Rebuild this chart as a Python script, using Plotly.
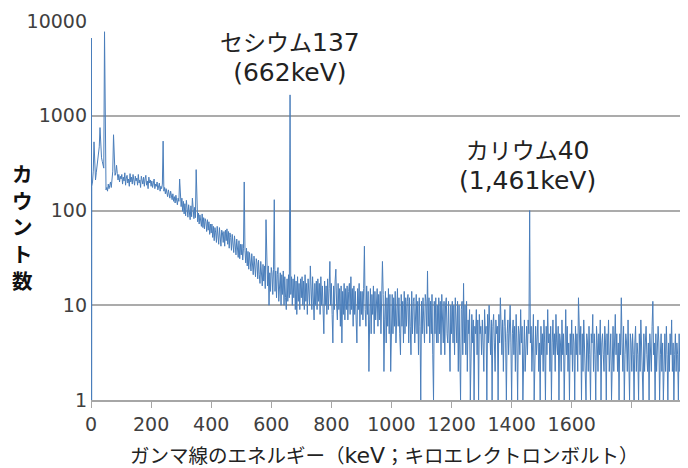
import plotly.graph_objects as go

# --- data (counts) ---
# a few points at the very start of the spectrum (keV, counts)
low_energy = [0, 0.5, 1.5, 2]
low_counts = [3, 1, 6600, 1]

# counts every 2.5 keV, starting at 2.5 keV; one row = 50 keV
counts_0_500 = [
    180, 200, 260, 530, 240, 210, 250, 300, 380, 420, 470, 750, 420, 360, 330, 300, 280, 7700, 260, 165,
    175, 160, 190, 170, 185, 200, 175, 215, 260, 630, 280, 235, 250, 300, 245, 210, 240, 200, 230, 215,
    240, 190, 225, 205, 250, 185, 220, 235, 195, 215, 180, 245, 200, 225, 190, 240, 210, 185, 230, 205,
    220, 185, 240, 195, 210, 175, 230, 200, 190, 225, 180, 215, 235, 185, 205, 170, 225, 195, 210, 180,
    205, 175, 195, 215, 170, 190, 180, 200, 165, 185, 195, 160, 180, 170, 190, 540, 160, 175, 150, 170,
    155, 140, 165, 150, 135, 160, 145, 130, 150, 125, 140, 120, 145, 130, 115, 135, 125, 215, 120, 110,
    135, 98, 125, 92, 118, 88, 128, 100, 85, 115, 94, 80, 112, 86, 135, 102, 82, 108, 84, 270,
    100, 76, 94, 72, 90, 80, 68, 92, 66, 84, 64, 82, 76, 60, 80, 62, 76, 56, 72, 58,
    72, 52, 68, 48, 66, 58, 46, 68, 52, 44, 66, 50, 42, 62, 58, 46, 60, 42, 62, 48,
    64, 44, 60, 40, 58, 52, 38, 56, 44, 36, 54, 40, 34, 50, 38, 32, 48, 31, 44, 34,
]
counts_500_1000 = [
    44, 30, 40, 200, 38, 28, 40, 26, 37, 24, 36, 28, 23, 35, 25, 21, 33, 23, 20, 31,
    28, 19, 30, 21, 17, 29, 20, 16, 27, 18, 26, 15, 80, 24, 16, 26, 10, 22, 14, 25,
    22, 13, 24, 130, 14, 23, 12, 21, 25, 11, 20, 22, 10, 21, 13, 23, 10, 20, 12, 9,
    19, 11, 21, 12, 1660, 13, 20, 10, 19, 12, 21, 9, 18, 8, 20, 11, 17, 9, 19, 12,
    20, 10, 18, 9, 21, 11, 17, 8, 19, 12, 10, 26, 18, 9, 20, 11, 7, 17, 10, 18,
    9, 19, 11, 17, 8, 20, 10, 16, 7, 5, 18, 10, 16, 8, 19, 9, 15, 29, 10, 17,
    8, 4, 16, 9, 18, 24, 10, 7, 17, 9, 15, 6, 16, 4, 14, 8, 17, 7, 15, 9,
    16, 7, 14, 17, 8, 20, 9, 15, 6, 16, 8, 14, 7, 4, 15, 9, 17, 6, 14, 8,
    14, 7, 15, 42, 9, 6, 16, 8, 14, 2, 7, 15, 5, 13, 8, 16, 5, 14, 7, 13,
    15, 6, 13, 7, 14, 5, 12, 29, 13, 2, 7, 14, 4, 12, 6, 15, 5, 13, 2, 11,
]
counts_1000_1500 = [
    13, 5, 12, 6, 14, 4, 11, 15, 6, 12, 5, 3, 13, 6, 11, 4, 14, 5, 12, 6,
    11, 13, 4, 12, 6, 3, 14, 5, 11, 12, 4, 10, 13, 5, 11, 3, 12, 6, 1, 11,
    5, 12, 6, 4, 13, 11, 5, 23, 6, 12, 4, 11, 5, 13, 3, 1, 11, 5, 12, 4,
    10, 4, 12, 5, 11, 3, 13, 6, 4, 11, 3, 10, 12, 5, 4, 11, 3, 2, 10, 5,
    11, 4, 10, 3, 12, 5, 4, 11, 2, 10, 4, 1, 9, 11, 3, 17, 4, 10, 3, 11,
    2, 7, 5, 9, 1, 6, 8, 4, 7, 1, 6, 5, 9, 3, 7, 1, 8, 5, 6, 3,
    7, 4, 2, 9, 5, 6, 1, 8, 4, 10, 5, 3, 7, 1, 6, 8, 4, 2, 7, 5,
    6, 1, 8, 4, 12, 5, 3, 7, 2, 6, 9, 4, 1, 5, 7, 3, 6, 10, 4, 1,
    5, 7, 3, 6, 2, 8, 4, 1, 6, 5, 3, 9, 4, 6, 1, 5, 7, 2, 4, 6,
    3, 7, 5, 100, 4, 6, 2, 5, 8, 1, 4, 6, 3, 5, 7, 2, 4, 1, 6, 3,
]
counts_1500_2000 = [
    5, 2, 7, 4, 1, 6, 3, 9, 4, 5, 2, 6, 1, 4, 7, 3, 5, 2, 8, 4,
    3, 6, 1, 5, 4, 2, 7, 3, 5, 1, 4, 9, 3, 6, 2, 4, 1, 5, 3, 7,
    2, 5, 4, 1, 6, 3, 5, 2, 12, 4, 3, 6, 1, 5, 2, 7, 4, 3, 1, 5,
    4, 2, 6, 3, 1, 5, 4, 8, 2, 5, 3, 1, 6, 4, 2, 5, 3, 7, 1, 4,
    5, 3, 2, 6, 4, 1, 5, 3, 7, 2, 4, 5, 1, 3, 6, 2, 4, 8, 3, 5,
    2, 4, 1, 5, 3, 12, 4, 2, 6, 1, 3, 5, 4, 2, 7, 3, 1, 5, 4, 2,
    5, 3, 1, 4, 6, 2, 4, 3, 1, 5, 2, 7, 4, 3, 1, 5, 2, 4, 6, 3,
    2, 4, 1, 5, 3, 2, 6, 11, 3, 4, 1, 5, 2, 3, 6, 4, 1, 3, 5, 2,
    4, 1, 3, 5, 2, 6, 3, 1, 4, 2, 5, 3, 7, 2, 4, 1, 3, 5, 2, 4,
    3, 1, 5, 2, 4, 6, 3, 1, 4, 2, 5, 3, 1, 4, 2, 6, 3, 5, 1, 3,
]

x_tick_values = [0, 200, 400, 600, 800, 1000, 1200, 1400, 1600, 1800]
x_tick_labels = ["0", "200", "400", "600", "800", "1000", "1200", "1400", "1600", ""]
y_tick_values = [1, 10, 100, 1000, 10000]
y_tick_labels = ["1", "10", "100", "1000", "10000"]
y_title_chars = ["カ", "ウ", "ン", "ト", "数"]

main_counts = counts_0_500 + counts_500_1000 + counts_1000_1500 + counts_1500_2000
main_energy = [2.5 * (i + 1) for i in range(len(main_counts))]

energy = low_energy + main_energy
counts = low_counts + main_counts

FONT = "DejaVu Sans, Noto Sans CJK JP, sans-serif"
L = "<span style='font-size:25px'>"
E = "</span>"


def px_to_paper_x(px):
    return (px - 91) / 597


def px_to_paper_y(py):
    return (400 - py) / 379


fig = go.Figure()
fig.add_trace(go.Scatter(
    x=energy, y=counts, mode="lines",
    line=dict(color="#4a7ebb", width=1),
    hoverinfo="skip", showlegend=False,
))

annotations = [
    dict(x=662, y=3.61, xref="x", yref="y", showarrow=False,
         text="セシウム" + L + "137" + E + "<br>" + L + "(662keV)" + E,
         align="center", xanchor="center", yanchor="middle",
         font=dict(family=FONT, size=23, color="#222222")),
    dict(x=1454, y=2.47, xref="x", yref="y", showarrow=False,
         text="カリウム" + L + "40" + E + "<br>" + L + "(1,461keV)" + E,
         align="center", xanchor="center", yanchor="middle",
         font=dict(family=FONT, size=23, color="#222222")),
    dict(x=px_to_paper_x(384), y=px_to_paper_y(455), xref="paper", yref="paper",
         showarrow=False,
         text="ガンマ線のエネルギー（<span style='font-size:22px'>keV</span>；キロエレクトロンボルト）",
         xanchor="center", yanchor="middle",
         font=dict(family=FONT, size=19.5, color="#222222")),
    dict(x=px_to_paper_x(22), y=px_to_paper_y(226), xref="paper", yref="paper",
         showarrow=False, text="<b>" + "<br>".join(y_title_chars) + "</b>",
         xanchor="center", yanchor="middle", align="center",
         font=dict(family="Noto Sans CJK JP", size=20.5, color="#111111")),
]

# page has an 8px body margin: figure is 680x460 placed at (8, 8)
fig.update_layout(
    width=680, height=460,
    margin=dict(l=83, r=0, t=13, b=68),
    paper_bgcolor="white", plot_bgcolor="white",
    xaxis=dict(
        range=[0, 1987], tickmode="array",
        tickvals=x_tick_values, ticktext=x_tick_labels,
        ticks="outside", ticklen=6, tickcolor="#a6a6a6", tickwidth=1,
        showline=True, linecolor="#a6a6a6", linewidth=1.5,
        showgrid=False, zeroline=False,
        tickfont=dict(family=FONT, size=19, color="#404040"),
    ),
    yaxis=dict(
        type="log", range=[0, 4], tickmode="array",
        tickvals=y_tick_values, ticktext=y_tick_labels,
        showgrid=True, gridcolor="#ababab", gridwidth=1.5,
        showline=False, zeroline=False, ticks="",
        ticklabelstandoff=3,
        tickfont=dict(family=FONT, size=19, color="#404040"),
    ),
    annotations=annotations,
)

fig.write_html("out.html")
